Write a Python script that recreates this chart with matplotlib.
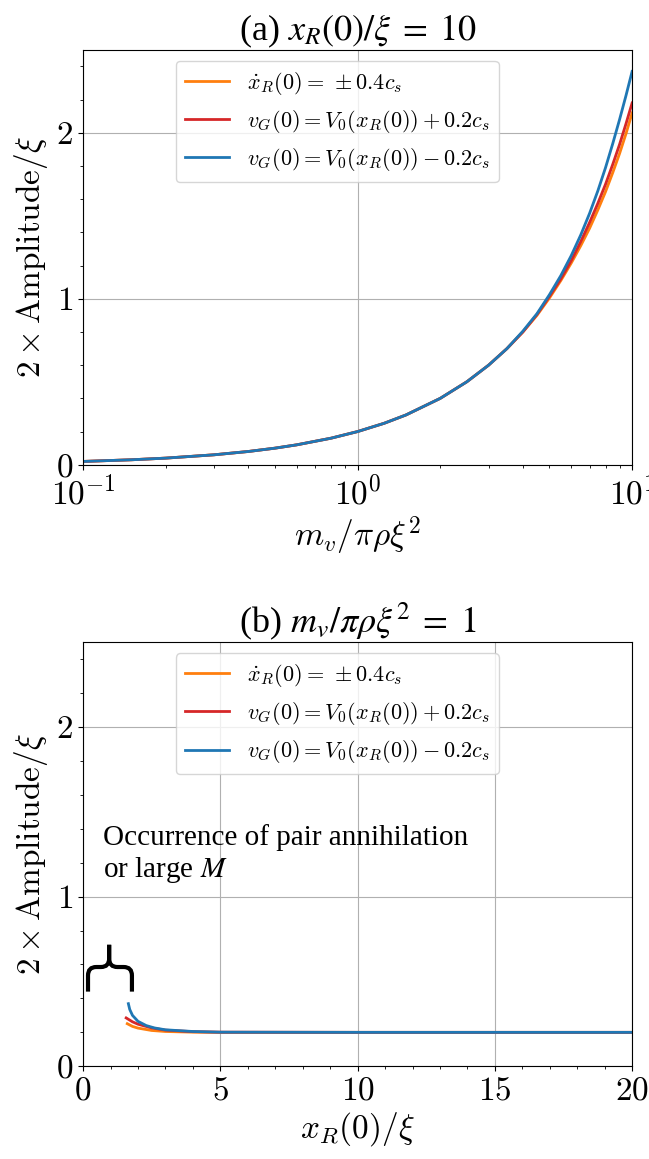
import numpy as np
import matplotlib
matplotlib.use("Agg")
import matplotlib.pyplot as plt
from matplotlib.path import Path
from matplotlib.patches import PathPatch
from matplotlib.font_manager import FontProperties
from matplotlib.ticker import MultipleLocator

plt.rcParams['font.family'] = ['cmr10', 'DejaVu Serif']
plt.rcParams['mathtext.fontset'] = 'cm'
plt.rcParams['axes.formatter.use_mathtext'] = True
plt.rcParams['font.size'] = 24

# (a) amplitude vs vortex mass, x_R(0)/xi = 10
mass = [0.1, 0.15, 0.2, 0.3, 0.4, 0.5, 0.6, 0.8, 1.0, 1.25, 1.5, 2.0, 2.5, 3.0,
        3.5, 4.0, 4.5, 5.0, 5.5, 6.0, 6.5, 7.0, 7.5, 8.0, 8.5, 9.0, 9.5, 10.0]
amp_a_orange = [0.02, 0.03, 0.04, 0.06, 0.08, 0.10, 0.12, 0.16, 0.20, 0.25, 0.30, 0.40, 0.50, 0.60,
                0.70, 0.80, 0.90, 1.005, 1.11, 1.215, 1.32, 1.425, 1.535, 1.645, 1.76, 1.875, 1.995, 2.12]
amp_a_red = [0.02, 0.03, 0.04, 0.06, 0.08, 0.10, 0.12, 0.16, 0.20, 0.25, 0.30, 0.40, 0.50, 0.60,
             0.70, 0.80, 0.905, 1.015, 1.12, 1.23, 1.345, 1.46, 1.575, 1.69, 1.81, 1.93, 2.055, 2.18]
amp_a_blue = [0.02, 0.03, 0.04, 0.06, 0.08, 0.10, 0.12, 0.16, 0.20, 0.25, 0.30, 0.40, 0.50, 0.60,
              0.70, 0.805, 0.91, 1.025, 1.14, 1.26, 1.385, 1.515, 1.65, 1.79, 1.935, 2.08, 2.225, 2.37]

# (b) amplitude vs initial separation, m_v/pi rho xi^2 = 1
xr_orange = [1.61, 1.8, 2.0, 2.5, 3.0, 4.0, 5.0, 10.0, 15.0, 20.0]
amp_b_orange = [0.251, 0.235, 0.225, 0.211, 0.205, 0.201, 0.200, 0.200, 0.200, 0.200]
xr_red = [1.57, 1.8, 2.0, 2.5, 3.0, 4.0, 5.0, 10.0, 15.0, 20.0]
amp_b_red = [0.285, 0.262, 0.248, 0.226, 0.213, 0.204, 0.201, 0.200, 0.200, 0.200]
xr_blue = [1.65, 1.7, 1.8, 2.0, 2.3, 2.6, 3.0, 4.0, 5.0, 10.0, 15.0, 20.0]
amp_b_blue = [0.369, 0.335, 0.300, 0.265, 0.240, 0.226, 0.215, 0.205, 0.201, 0.200, 0.200, 0.200]

labels = [r'$\dot{x}_R(0) =\,\pm 0.4c_s$',
          r'$v_G(0) = V_0(x_R(0)) + 0.2c_s$',
          r'$v_G(0) = V_0(x_R(0)) - 0.2c_s$']
colors = ['#ff7f0e', '#d62728', '#1f77b4']

leg_font = FontProperties(family='cmr10', size=16)
leg_font.set_math_fontfamily('cm')

title_kw = dict(fontsize=26, fontfamily='Liberation Serif', math_fontfamily='stix', pad=4)

fig = plt.figure(figsize=(6.49, 11.59), dpi=100)
ax1 = fig.add_axes([0.128, 0.599, 0.846, 0.358])
ax2 = fig.add_axes([0.128, 0.080, 0.846, 0.366])

for y, c, lab in zip([amp_a_orange, amp_a_red, amp_a_blue], colors, labels):
    ax1.plot(mass, y, color=c, lw=2, label=lab)
ax1.set_xscale('log')
ax1.set_xlim(0.1, 10)
ax1.set_ylim(0, 2.5)
ax1.yaxis.set_major_locator(MultipleLocator(1))
ax1.yaxis.set_minor_locator(MultipleLocator(0.2))
ax1.grid(True, which='major', color='#b0b0b0')
ax1.set_title(r'(a) $x_R(0)/\xi\;=\;10$', **title_kw)
ax1.set_xlabel(r'$m_v/\pi\rho\xi^2$')
ax1.set_ylabel(r'$2\times\mathrm{Amplitude}/\xi$')
ax1.legend(loc='upper center', bbox_to_anchor=(0.463, 1.0), prop=leg_font)

for xs, y, c, lab in zip([xr_orange, xr_red, xr_blue],
                         [amp_b_orange, amp_b_red, amp_b_blue], colors, labels):
    ax2.plot(xs, y, color=c, lw=2, label=lab)
ax2.set_xlim(0, 20)
ax2.set_ylim(0, 2.5)
ax2.xaxis.set_major_locator(MultipleLocator(5))
ax2.xaxis.set_minor_locator(MultipleLocator(1))
ax2.yaxis.set_major_locator(MultipleLocator(1))
ax2.yaxis.set_minor_locator(MultipleLocator(0.2))
ax2.grid(True, which='major', color='#b0b0b0')
ax2.set_title(r'(b) $m_v/\pi\rho\xi^2\;=\;1$', **title_kw)
ax2.set_xlabel(r'$x_R(0)/\xi$')
ax2.set_ylabel(r'$2\times\mathrm{Amplitude}/\xi$')
ax2.legend(loc='upper center', bbox_to_anchor=(0.463, 1.0), prop=leg_font)

ax2.text(0.73, 1.07, 'Occurrence of pair annihilation\nor large $M$',
         fontsize=21, fontfamily='Liberation Serif', math_fontfamily='stix',
         ha='left', va='bottom', linespacing=1.15)

# curly brace marking the region without data
x0, x1, xc = 0.18, 1.78, 0.95
y0, ym, yt = 0.44, 0.585, 0.716
rx, ry = 0.3, 0.05
verts = [(x0, y0), (x0, ym - ry), (x0, ym), (x0 + rx, ym),
         (xc - rx, ym), (xc, ym), (xc, ym + ry), (xc, yt)]
codes = [Path.MOVETO, Path.LINETO, Path.CURVE3, Path.CURVE3,
         Path.LINETO, Path.CURVE3, Path.CURVE3, Path.LINETO]
verts2 = [(x1, y0), (x1, ym - ry), (x1, ym), (x1 - rx, ym),
          (xc + rx, ym), (xc, ym), (xc, ym + ry), (xc, yt)]
for v in (verts, verts2):
    ax2.add_patch(PathPatch(Path(v, codes), fill=False, lw=3, color='black',
                            capstyle='butt', clip_on=False))

fig.savefig('out.png', dpi=100)
